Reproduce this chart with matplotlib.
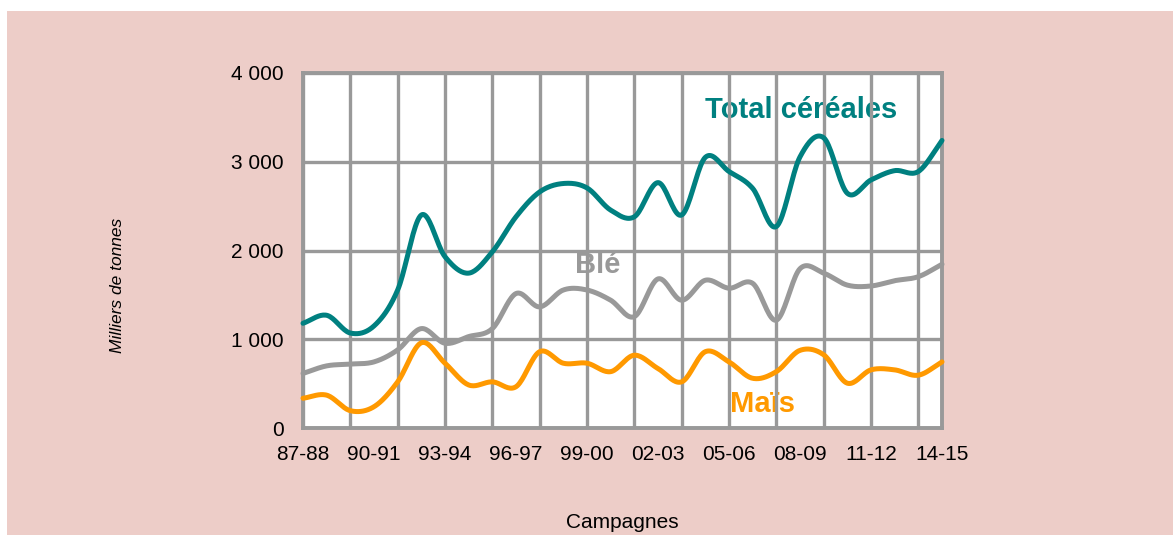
import numpy as np
import matplotlib
matplotlib.use("Agg")
import matplotlib.pyplot as plt
from matplotlib.patches import Rectangle

plt.rcParams['font.family'] = ['Liberation Sans', 'DejaVu Sans']

seasons = ["87-88", "88-89", "89-90", "90-91", "91-92", "92-93", "93-94", "94-95",
           "95-96", "96-97", "97-98", "98-99", "99-00", "00-01", "01-02", "02-03",
           "03-04", "04-05", "05-06", "06-07", "07-08", "08-09", "09-10", "10-11",
           "11-12", "12-13", "13-14", "14-15"]

total_cereales = [1180, 1270, 1070, 1150, 1555, 2400, 1930, 1745, 1985, 2380,
                  2660, 2755, 2705, 2455, 2380, 2765, 2400, 3050, 2890, 2700,
                  2270, 3055, 3270, 2645, 2795, 2900, 2890, 3240]
ble = [615, 700, 720, 745, 880, 1120, 955, 1030, 1120, 1515,
       1365, 1555, 1555, 1440, 1255, 1680, 1440, 1665, 1575, 1630,
       1215, 1795, 1745, 1610, 1600, 1660, 1705, 1845]
mais = [335, 370, 195, 240, 520, 960, 730, 485, 520, 465,
        860, 730, 730, 635, 820, 670, 520, 860, 745, 560,
        635, 875, 825, 505, 655, 655, 595, 745]

y_ticks = [0, 1000, 2000, 3000, 4000]
y_tick_labels = ["0", "1 000", "2 000", "3 000", "4 000"]

C_TEAL = "#008080"
C_GRAY = "#999999"
C_ORANGE = "#FF9900"
C_BG = "#EDCDC8"


def smooth(xs, ys, n=20):
    xs = np.asarray(xs, float)
    ys = np.asarray(ys, float)
    px = np.concatenate([[2 * xs[0] - xs[1]], xs, [2 * xs[-1] - xs[-2]]])
    py = np.concatenate([[2 * ys[0] - ys[1]], ys, [2 * ys[-1] - ys[-2]]])
    ox, oy = [], []
    t = np.linspace(0, 1, n, endpoint=False)
    for i in range(1, len(px) - 2):
        def cr(a0, a1, a2, a3):
            return 0.5 * ((2 * a1) + (-a0 + a2) * t + (2 * a0 - 5 * a1 + 4 * a2 - a3) * t ** 2
                          + (-a0 + 3 * a1 - 3 * a2 + a3) * t ** 3)
        ox.append(cr(px[i - 1], px[i], px[i + 1], px[i + 2]))
        oy.append(cr(py[i - 1], py[i], py[i + 1], py[i + 2]))
    ox.append([xs[-1]])
    oy.append([ys[-1]])
    return np.concatenate(ox), np.concatenate(oy)


fig = plt.figure(figsize=(11.73, 5.35), dpi=100)
fig.patch.set_facecolor("white")
fig.add_artist(Rectangle((7 / 1173, 0), 1 - 7 / 1173, 1 - 11 / 535,
                         transform=fig.transFigure, facecolor=C_BG,
                         edgecolor="none", zorder=0))

ax = fig.add_axes([303 / 1173, 1 - 428 / 535, (942 - 303) / 1173, (428 - 73) / 535])
ax.set_facecolor("white")
x = np.arange(len(seasons))
ax.set_xlim(0, len(seasons) - 1)
ax.set_ylim(0, 4000)

# grid
for gx in x[::2]:
    ax.axvline(gx, color=C_GRAY, lw=2.4, zorder=2)
for gy in y_ticks:
    ax.axhline(gy, color=C_GRAY, lw=2.4, zorder=2)
for s in ax.spines.values():
    s.set_color(C_GRAY)
    s.set_linewidth(2.8)
    s.set_zorder(2.5)

for vals, col in [(mais, C_ORANGE), (ble, C_GRAY), (total_cereales, C_TEAL)]:
    sx, sy = smooth(x, vals)
    ax.plot(sx, sy, color=col, lw=3.6, zorder=3, solid_capstyle="round",
            solid_joinstyle="round", clip_on=False)

ax.text(21.04, 3490, "Total céréales", color=C_TEAL, fontsize=21,
        fontweight="bold", ha="center", va="baseline", zorder=1)
ax.text(12.46, 1743, "Blé", color=C_GRAY, fontsize=21,
        fontweight="bold", ha="center", va="baseline", zorder=1)
ax.text(19.43, 184, "Maïs", color=C_ORANGE, fontsize=21,
        fontweight="bold", ha="center", va="baseline", zorder=1)

ax.set_yticks(y_ticks)
ax.set_yticklabels(y_tick_labels)
ax.set_xticks(x[::3])
ax.set_xticklabels(seasons[::3])
ax.tick_params(axis="both", length=0, labelsize=15, colors="black")
ax.tick_params(axis="y", pad=14)
ax.tick_params(axis="x", pad=12)

fig.text(117 / 1173, 1 - 285 / 535, "Milliers de tonnes", rotation=90,
         fontsize=12.5, style="italic", ha="center", va="center")
fig.text(622 / 1173, 1 - 522 / 535, "Campagnes", fontsize=15,
         ha="center", va="center")

fig.savefig("out.png", dpi=100, facecolor=fig.get_facecolor())
